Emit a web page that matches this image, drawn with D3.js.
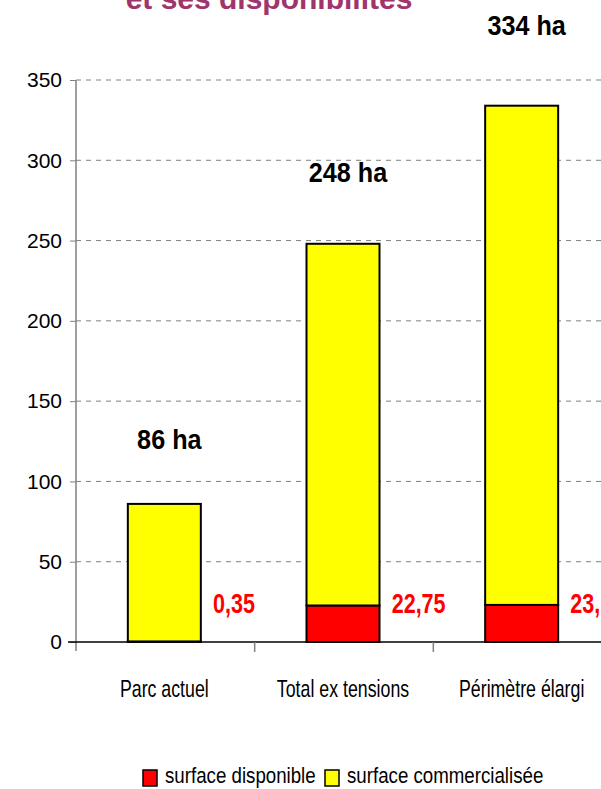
<!DOCTYPE html>
<html lang="fr">
  <head>
    <meta charset="UTF-8" />
    <title>Surfaces</title>
    <script src="https://d3js.org/d3.v7.min.js"></script>
    <style>
      body {
        margin: 0;
        background-color: #fff;
      }
      text {
        font-family: "Liberation Sans", Arial, sans-serif;
      }
    </style>
  </head>
  <body>
    <div id="chart"></div>
    <script>
      // données
      const categories = ["Parc actuel", "Total ex tensions", "Périmètre élargi"];
      const disponible = [0.35, 22.75, 23.1];
      const totaux = [86, 248, 334];
      const commercialisee = totaux.map((t, i) => t - disponible[i]);
      const totalLabels = ["86 ha", "248 ha", "334 ha"];
      const dispoLabels = ["0,35", "22,75", "23,1"];
      const yTicks = [0, 50, 100, 150, 200, 250, 300, 350];
      const seriesNames = ["surface disponible", "surface commercialisée"];
      const colors = ["#ff0000", "#ffff00"];

      const width = 601;
      const height = 789;

      const svg = d3
        .select("#chart")
        .append("svg")
        .attr("width", width)
        .attr("height", height);

      const x = d3.scaleBand().domain(categories).range([76, 612]).padding(0);
      const y = d3.scaleLinear().domain([0, 350]).range([642, 80]);

      // pas de police étroite installée : on compresse horizontalement
      function narrowText(parent, px, py, str, size, sx, anchor) {
        const g = parent
          .append("g")
          .attr("transform", `translate(${px},${py}) scale(${sx},1)`);
        return g
          .append("text")
          .attr("text-anchor", anchor || "start")
          .attr("font-size", size)
          .text(str);
      }

      // titre (coupé en haut)
      svg
        .append("text")
        .attr("x", 269)
        .attr("y", 9)
        .attr("text-anchor", "middle")
        .attr("font-weight", "bold")
        .attr("font-size", 30)
        .attr("fill", "#a0356c")
        .text("et ses disponibilités");

      // grille pointillée
      svg
        .selectAll(".grid")
        .data(yTicks.filter((d) => d > 0))
        .enter()
        .append("line")
        .attr("x1", 76)
        .attr("x2", width)
        .attr("y1", (d) => y(d))
        .attr("y2", (d) => y(d))
        .attr("stroke", "#808080")
        .attr("stroke-width", 1)
        .attr("stroke-dasharray", "5,5");

      // axe Y
      const yAxis = svg
        .append("g")
        .attr("transform", "translate(76,0)")
        .call(d3.axisLeft(y).tickValues(yTicks).tickSize(6).tickPadding(8));
      yAxis.select(".domain").remove();
      yAxis.selectAll("line").attr("stroke", "#808080");
      yAxis
        .selectAll("text")
        .attr("font-family", "Liberation Sans, Arial, sans-serif")
        .attr("font-size", 21)
        .attr("fill", "#000");
      svg
        .append("line")
        .attr("x1", 76)
        .attr("x2", 76)
        .attr("y1", y(350))
        .attr("y2", 651)
        .attr("stroke", "#808080")
        .attr("stroke-width", 1.5);

      // barres empilées
      const stack = categories.map((c, i) => ({
        cat: c,
        parts: [
          { y0: 0, y1: disponible[i], color: colors[0] },
          { y0: disponible[i], y1: disponible[i] + commercialisee[i], color: colors[1] },
        ],
      }));
      const barW = 73;
      const groups = svg
        .selectAll(".bar")
        .data(stack)
        .enter()
        .append("g")
        .attr("class", "bar");
      groups
        .selectAll("rect")
        .data((d) => d.parts.map((p) => ({ ...p, cat: d.cat })))
        .enter()
        .append("rect")
        .attr("x", (d) => x(d.cat) + x.bandwidth() / 2 - barW / 2 - 1)
        .attr("width", barW)
        .attr("y", (d) => y(d.y1))
        .attr("height", (d) => y(d.y0) - y(d.y1))
        .attr("fill", (d) => d.color)
        .attr("stroke", "#000")
        .attr("stroke-width", 2);

      // axe X
      svg
        .append("line")
        .attr("x1", 68)
        .attr("x2", width)
        .attr("y1", y(0))
        .attr("y2", y(0))
        .attr("stroke", "#000")
        .attr("stroke-width", 1.5);
      svg
        .selectAll(".xtick")
        .data(categories.slice(1))
        .enter()
        .append("line")
        .attr("x1", (d) => x(d))
        .attr("x2", (d) => x(d))
        .attr("y1", y(0))
        .attr("y2", y(0) + 10)
        .attr("stroke", "#808080")
        .attr("stroke-width", 1.5);
      categories.forEach((c) => {
        narrowText(svg, x(c) + x.bandwidth() / 2 - 1, 697, c, 24, 0.74, "middle");
      });

      // étiquettes totaux
      const lift = [55, 62, 71];
      totaux.forEach((t, i) => {
        narrowText(
          svg,
          x(categories[i]) + x.bandwidth() / 2 + 4,
          y(t) - lift[i],
          totalLabels[i],
          28,
          0.9,
          "middle"
        ).attr("font-weight", "bold");
      });

      // étiquettes disponibles
      disponible.forEach((d, i) => {
        narrowText(svg, x(categories[i]) + 137, 613, dispoLabels[i], 28, 0.77)
          .attr("font-weight", "bold")
          .attr("fill", "#ff0000");
      });

      // légende
      const legX = [143, 325];
      seriesNames.forEach((name, i) => {
        svg
          .append("rect")
          .attr("x", legX[i])
          .attr("y", 770)
          .attr("width", 14)
          .attr("height", 16)
          .attr("fill", colors[i])
          .attr("stroke", "#000")
          .attr("stroke-width", 1.5);
        narrowText(svg, legX[i] + 22, 783, name, 22, 0.85);
      });
    </script>
  </body>
</html>
